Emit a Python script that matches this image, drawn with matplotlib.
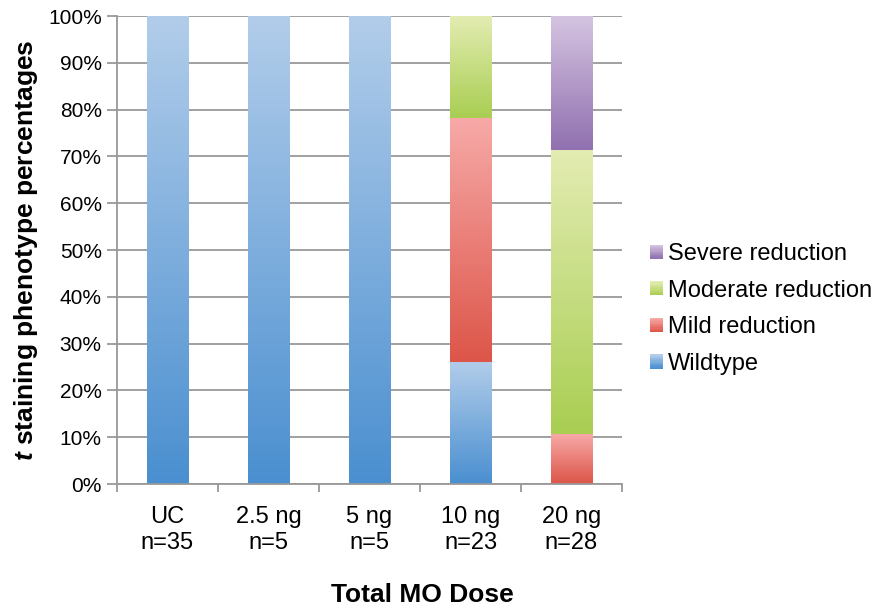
import numpy as np
import matplotlib as mpl
mpl.use('Agg')
import matplotlib.pyplot as plt
import matplotlib.ticker as ticker
from matplotlib.patches import Rectangle
from matplotlib.legend_handler import HandlerBase

######################
## data
######################

categories = ['UC\nn=35', '2.5 ng\nn=5', '5 ng\nn=5', '10 ng\nn=23', '20 ng\nn=28']
series_names = ['Wildtype', 'Mild reduction', 'Moderate reduction', 'Severe reduction']
wildtype = [100, 100, 100, 26.1, 0]
mild = [0, 0, 0, 52.2, 10.7]
moderate = [0, 0, 0, 21.7, 60.7]
severe = [0, 0, 0, 0, 28.6]

# (top colour, bottom colour) of each gradient
gradients = [('#b2cdea', '#4a8fd0'),
             ('#f7aaa8', '#dd5549'),
             ('#e3ecb2', '#a9ce52'),
             ('#d5c4e1', '#9070af')]

######################
## setup matplotlib
######################

plt.rcParams['font.family'] = ['Liberation Sans', 'DejaVu Sans']
plt.rcParams['mathtext.fontset'] = 'custom'
plt.rcParams['mathtext.it'] = 'Liberation Sans:italic:bold'
plt.rcParams['mathtext.rm'] = 'Liberation Sans:bold'

grid_color = '#999999'

fig = plt.figure(figsize=(8.78, 6.09), dpi=100)
ax = fig.add_axes([117/878, 1-484/609, (622-117)/878, (484-16)/609])


def ramp(top, bottom, n=256):
    t = np.linspace(0, 1, n)[:, None]
    c0 = np.array(mpl.colors.to_rgb(bottom))
    c1 = np.array(mpl.colors.to_rgb(top))
    return (c0 + (c1 - c0) * t)[:, None, :]


x = np.arange(len(categories))
width = 0.41
bottom = np.zeros(len(categories))
for vals, (top_c, bot_c) in zip([wildtype, mild, moderate, severe], gradients):
    vals = np.array(vals, dtype=float)
    img = ramp(top_c, bot_c)
    for xi, b, v in zip(x, bottom, vals):
        if v <= 0:
            continue
        ax.imshow(img, extent=[xi - width/2, xi + width/2, b, b + v],
                  origin='lower', aspect='auto', zorder=2, interpolation='bilinear')
    bottom += vals

ax.set_xlim(-0.5, len(categories) - 0.5)
ax.set_ylim(0, 100)

######################
## axes styling
######################

ax.set_axisbelow(True)
ax.yaxis.set_major_locator(ticker.MultipleLocator(10))
ax.yaxis.set_major_formatter(ticker.FuncFormatter(lambda v, p: '{:.0f}%'.format(v)))
ax.grid(which='major', axis='y', color=grid_color, linewidth=1.3)

ax.xaxis.set_major_locator(ticker.FixedLocator(np.arange(len(categories) + 1) - 0.5))
ax.xaxis.set_major_formatter(ticker.NullFormatter())
ax.xaxis.set_minor_locator(ticker.FixedLocator(x))
ax.xaxis.set_minor_formatter(ticker.FixedFormatter(categories))
ax.tick_params(axis='x', which='major', length=6, width=1.3, color=grid_color)
ax.tick_params(axis='x', which='minor', length=0, pad=16, labelsize=17)
ax.tick_params(axis='y', which='major', length=7, width=1.3, color=grid_color, labelsize=15, pad=4)

for side in ['top', 'right']:
    ax.spines[side].set_visible(False)
for side in ['left', 'bottom']:
    ax.spines[side].set_color(grid_color)
    ax.spines[side].set_linewidth(1.3)

ax.set_ylabel(r'$\mathit{t}$ staining phenotype percentages', fontsize=19, fontweight='bold', labelpad=6)
ax.set_xlabel('Total MO Dose', fontsize=19, fontweight='bold', labelpad=21)
# the title of the x axis sits right of the axes centre in the original
ax.xaxis.label.set_x(0.604)

######################
## legend with gradient swatches
######################


class GradientHandler(HandlerBase):
    def __init__(self, top, bottom, steps=12):
        super().__init__()
        self.top = top
        self.bottom = bottom
        self.steps = steps

    def create_artists(self, legend, orig_handle, xdescent, ydescent, width, height, fontsize, trans):
        cols = ramp(self.top, self.bottom, self.steps)[:, 0, :]
        h = height / self.steps
        arts = []
        for i, c in enumerate(cols):
            arts.append(Rectangle((-xdescent, -ydescent + i*h), width, h * 1.05,
                                  facecolor=c, edgecolor='none', transform=trans))
        return arts


handles = [Rectangle((0, 0), 1, 1) for _ in series_names]
hmap = {h: GradientHandler(t, b) for h, (t, b) in zip(handles, gradients)}
leg = fig.legend(handles[::-1], series_names[::-1], handler_map=hmap,
                 loc='center left', bbox_to_anchor=(650/878, 1-309/609),
                 bbox_transform=fig.transFigure, frameon=False, fontsize=17,
                 handlelength=0.55, handleheight=0.55, handletextpad=0.22,
                 labelspacing=0.62, borderpad=0, borderaxespad=0)

plt.savefig('out.png', dpi=100)
